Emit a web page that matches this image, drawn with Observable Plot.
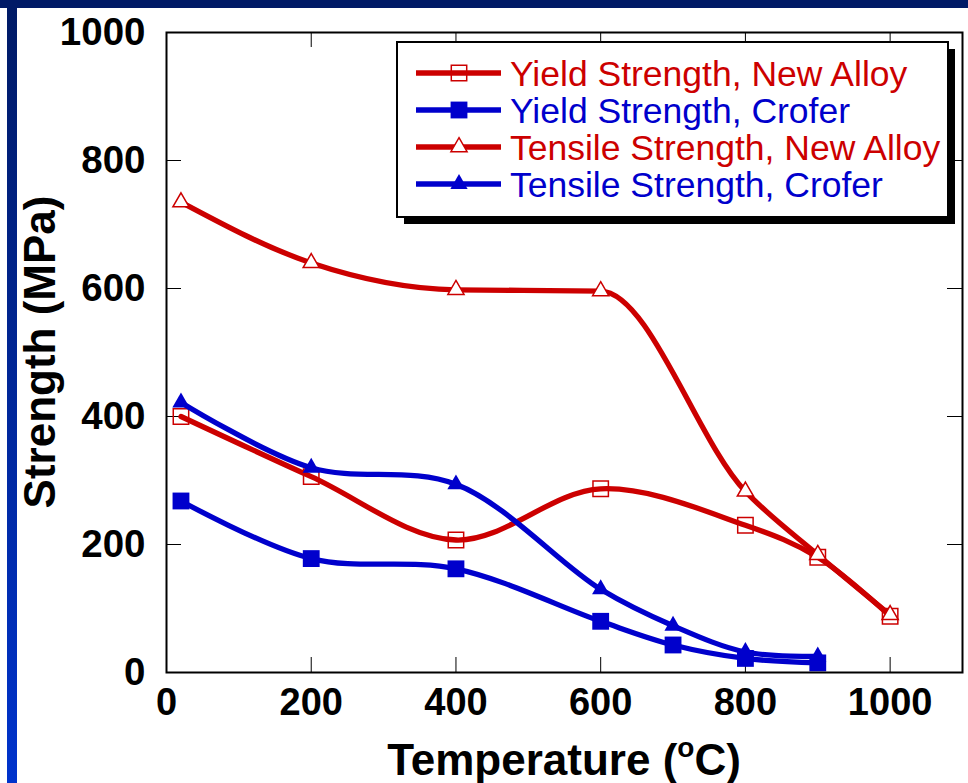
<!DOCTYPE html>
<html><head><meta charset="utf-8">
<script src="https://cdn.jsdelivr.net/npm/d3@7"></script>
<script src="https://cdn.jsdelivr.net/npm/@observablehq/plot@0.6"></script>
<style>
html,body{margin:0;padding:0;background:#fff;}
#wrap{position:relative;width:968px;height:783px;overflow:hidden;background:#fff;}
#topband{position:absolute;left:0;top:0;width:968px;height:8px;background:#001a66;}
#leftbar{position:absolute;left:7px;top:8px;width:10px;height:775px;background:linear-gradient(#001a66,#0033cc);}
</style></head><body>
<div id="wrap"><div id="chart"></div><div id="topband"></div><div id="leftbar"></div></div>
<script>
// ---- data ----
const seriesNames = ["Yield Strength, New Alloy", "Yield Strength, Crofer", "Tensile Strength, New Alloy", "Tensile Strength, Crofer"];
const tempNew = [20, 200, 400, 600, 800, 900, 1000];
const tempCrofer = [20, 200, 400, 600, 700, 800, 900];
const yieldNew = [400, 306, 207, 287, 230, 180, 88];
const yieldCrofer = [268, 178, 162, 80, 43, 22, 15];
const tensileNew = [735, 640, 598, 596, 283, 184, 90];
const tensileCrofer = [422, 320, 294, 130, 73, 32, 25];
const xTicks = [0, 200, 400, 600, 800, 1000];
const yTicks = [0, 200, 400, 600, 800, 1000];

const RED = "#cc0000", BLUE = "#0000cc";
const FONT = "'Liberation Sans', Arial, Helvetica, sans-serif";

const styles = [
  {color: RED, symbol: "square", fill: "none", stroke: RED, r: 8.7, sw: 1.5, curve: "catmull-rom"},
  {color: BLUE, symbol: "square", fill: BLUE, stroke: "none", r: 9.5, sw: 0, curve: "catmull-rom"},
  {color: RED, symbol: "triangle", fill: "white", stroke: RED, r: 6, sw: 1.5, curve: "monotone-x"},
  {color: BLUE, symbol: "triangle", fill: BLUE, stroke: "none", r: 6.4, sw: 0, curve: "catmull-rom"}
];
const seriesX = [tempNew, tempCrofer, tempNew, tempCrofer];
const seriesY = [yieldNew, yieldCrofer, tensileNew, tensileCrofer];
const seriesData = seriesNames.map((name, i) => seriesX[i].map((t, j) => ({series: name, temp: t, value: seriesY[i][j]})));

const W = 968, H = 783, mL = 166, mR = 6, mT = 32, mB = 111;
const plotW = W - mL - mR, plotH = H - mT - mB, TICK = 15;

const marks = [];
seriesData.forEach((d, i) => {
  const s = styles[i];
  marks.push(Plot.line(d, {x: "temp", y: "value", stroke: s.color, strokeWidth: 5.3, curve: s.curve}));
  marks.push(Plot.dot(d, {x: "temp", y: "value", symbol: () => s.symbol, r: s.r, fill: s.fill, stroke: s.stroke, strokeWidth: s.sw}));
});

const chart = Plot.plot({
  width: W, height: H,
  marginLeft: mL, marginRight: mR, marginTop: mT, marginBottom: mB,
  style: {fontFamily: FONT, color: "black", background: "white"},
  x: {domain: [0, 1100]},
  y: {domain: [0, 1000]},
  marks: [
    Plot.tickY(yTicks, {y: d => d, insetRight: plotW - TICK, stroke: "black", strokeWidth: 1}),
    Plot.tickY(yTicks, {y: d => d, insetLeft: plotW - TICK, stroke: "black", strokeWidth: 1}),
    Plot.tickX(xTicks, {x: d => d, insetTop: plotH - TICK, stroke: "black", strokeWidth: 1}),
    Plot.tickX(xTicks, {x: d => d, insetBottom: plotH - TICK, stroke: "black", strokeWidth: 1}),
    ...marks,
    Plot.frame({stroke: "black", strokeWidth: 2}),
    Plot.axisX({ticks: xTicks, tickFormat: d => String(d), tickSize: 0, tickPadding: 16, fontSize: 38, fontWeight: "bold", label: null, fill: "black"}),
    Plot.axisY({ticks: yTicks, tickFormat: d => String(d), tickSize: 0, tickPadding: 21, fontSize: 38.5, fontWeight: "bold", label: null, fill: "black"})
  ]
});
document.getElementById("chart").appendChild(chart);

const svg = d3.select(chart);
// axis titles
const xt = svg.append("text").attr("x", 564).attr("y", 775).attr("text-anchor", "middle")
  .attr("font-family", FONT).attr("font-size", 44).attr("font-weight", "bold").attr("fill", "black");
xt.append("tspan").text("Temperature (");
xt.append("tspan").attr("font-size", 28).attr("dy", -18).text("o");
xt.append("tspan").attr("dy", 18).text("C)");

svg.append("text").attr("transform", "translate(55,352) rotate(-90)").attr("text-anchor", "middle")
  .attr("font-family", FONT).attr("font-size", 44).attr("font-weight", "bold").attr("fill", "black")
  .text("Strength (MPa)");

// legend
const lg = svg.append("g").attr("text-anchor", "start");
const LX = 397, LY = 42, LW = 551, LH = 175, OFF = 7;
lg.append("rect").attr("x", LX + OFF).attr("y", LY + OFF).attr("width", LW).attr("height", LH).attr("fill", "black");
lg.append("rect").attr("x", LX).attr("y", LY).attr("width", LW).attr("height", LH).attr("fill", "white").attr("stroke", "black").attr("stroke-width", 2);
const rowY = [73, 110, 147, 184];
seriesNames.forEach((name, i) => {
  const s = styles[i];
  const y = rowY[i];
  lg.append("line").attr("x1", 416).attr("x2", 501).attr("y1", y).attr("y2", y).attr("stroke", s.color).attr("stroke-width", 5.3);
  const sym = d3.symbol(s.symbol === "square" ? d3.symbolSquare : d3.symbolTriangle, Math.PI * s.r * s.r);
  lg.append("path").attr("d", sym()).attr("transform", `translate(459,${y})`)
    .attr("fill", s.fill).attr("stroke", s.stroke).attr("stroke-width", s.sw);
  lg.append("text").attr("x", 510).attr("y", y + 12.5).attr("text-anchor", "start").attr("font-family", FONT).attr("font-size", 35.5)
    .attr("fill", s.color).text(name);
});
</script>
</body></html>
